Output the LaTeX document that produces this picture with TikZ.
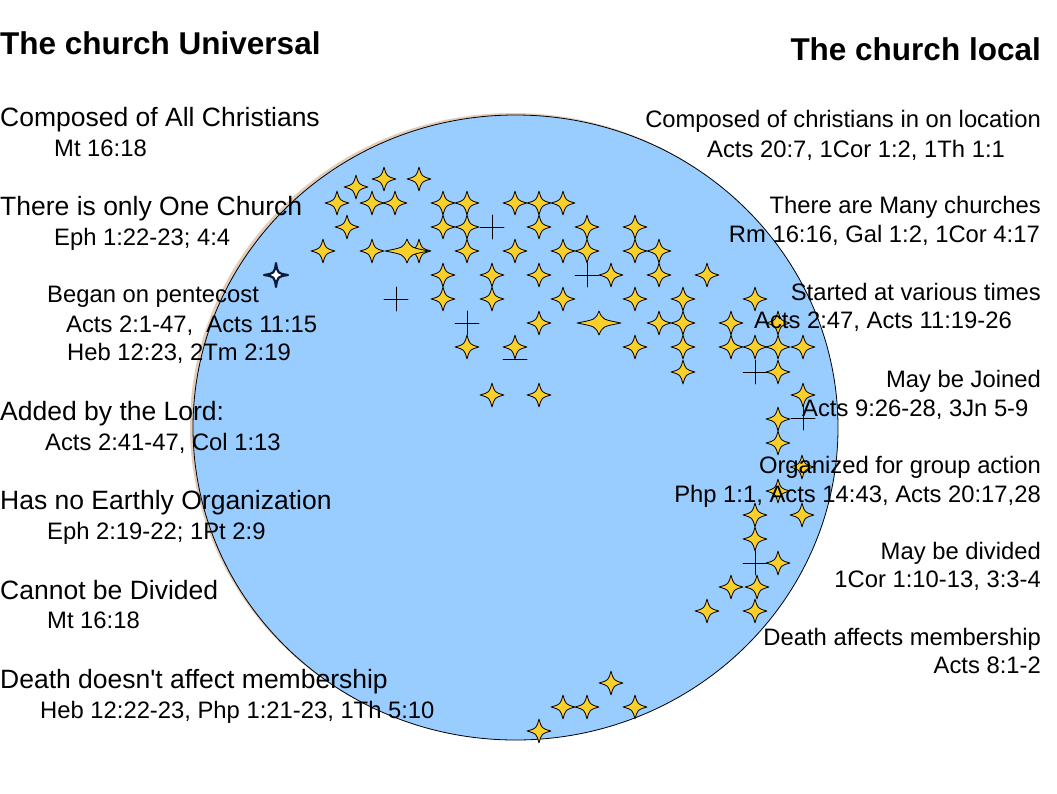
\documentclass[tikz,border=0pt]{standalone}
\usepackage{fontspec}
\setmainfont{Liberation Sans}[Ligatures=TeXOff]
\usetikzlibrary{calc}

\definecolor{skyfill}{RGB}{153,204,255}
\definecolor{stargold}{RGB}{250,208,40}
\definecolor{rimtan}{RGB}{226,204,186}
\definecolor{navystar}{RGB}{12,26,60}

\newcommand{\headfnt}{\fontsize{31.5}{36}\selectfont\bfseries}
\newcommand{\pointfnt}{\fontsize{26.5}{30}\selectfont}
\newcommand{\versefnt}{\fontsize{23.8}{28}\selectfont}

\tikzset{
	sparkle/.pic={
		\filldraw[fill=stargold, draw=black, line width=0.8pt] (0,-12) .. controls (2.6,-2.6) .. (12,0) .. controls (2.6,2.6) .. (0,12) .. controls (-2.6,2.6) .. (-12,0) .. controls (-2.6,-2.6) .. (0,-12) -- cycle;
	},
	bigsparkle/.pic={
		\filldraw[fill=stargold, draw=black, line width=0.8pt] (0,-12) .. controls (3.5,-3.5) .. (22,0) .. controls (3.5,3.5) .. (0,12) .. controls (-3.5,3.5) .. (-22,0) .. controls (-3.5,-3.5) .. (0,-12) -- cycle;
	},
	darksparkle/.pic={
		\filldraw[fill=white, draw=navystar, line width=2.2pt] (0,-12) .. controls (1.6,-1.6) .. (12,0) .. controls (1.6,1.6) .. (0,12) .. controls (-1.6,1.6) .. (-12,0) .. controls (-1.6,-1.6) .. (0,-12) -- cycle;
	},
	crossmark/.pic={
		\draw[black, line width=0.7pt] (-12,0) -- (12,0) (0,-12) -- (0,12);
	}
}

\begin{document}
\begin{tikzpicture}[x=1pt, y=-1pt, line join=round, line cap=round,
	head/.style={inner sep=0pt, font=\headfnt},
	point/.style={inner sep=0pt, font=\pointfnt},
	verse/.style={inner sep=0pt, font=\versefnt}]
	\useasboundingbox (0,0) rectangle (1057,793);

	% the globe
	\fill[rimtan] (513,426) ellipse (323pt and 313pt);
	\filldraw[fill=skyfill, draw=black, line width=0.8pt] (515.5,427.5) ellipse (322.5pt and 312.5pt);

	% crosses
	\foreach \px/\py in {492/227, 587/275, 396/299, 467/323, 755/372, 803/418, 755/563}
		\pic at (\px,\py) {crossmark};
	\coordinate (barL) at (503,359);
	\coordinate (barR) at (527,359);
	\draw[black, line width=0.7pt] (barL) -- (barR);

	% stars
	\foreach \px/\py in {
		384/179, 419/179, 356/187,
		337/203, 372/203, 395/203, 443/203, 467/203, 515/203, 539/203, 563/203,
		347/227, 443/227, 467/227, 539/227, 587/227, 635/227,
		323/251, 372/251, 419/251, 467/251, 515/251, 563/251, 587/251, 635/251, 659/251,
		443/275, 492/275, 539/275, 611/275, 659/275, 707/275,
		443/299, 492/299, 563/299, 635/299, 683/299, 755/299,
		539/323, 659/323, 683/323, 731/323, 778/323,
		467/347, 515/347, 635/347, 683/347, 731/347, 755/347, 778/347, 803/347,
		683/372, 778/372,
		492/395, 539/395, 803/395,
		778/419, 778/443, 802/467, 778/491,
		755/515, 802/515, 755/539, 778/563,
		731/587, 757/587, 707/611, 755/611,
		611/683, 563/707, 587/707, 635/707, 539/731}
		\pic at (\px,\py) {sparkle};
	\pic at (407,251) {bigsparkle};
	\pic at (599,323) {bigsparkle};
	\pic at (276,275) {darksparkle};

	% universal
	\node[head, anchor=base west] (uniHead) at (0,54) {The church Universal};
	\node[point, anchor=base west] (uniA) at (0,126) {Composed of All Christians};
	\node[verse, anchor=base west] (uniAv) at (54,156) {Mt 16:18};
	\node[point, anchor=base west] (uniB) at (0,215) {There is only One Church};
	\node[verse, anchor=base west] (uniBv) at (54,245) {Eph 1:22-23; 4:4};
	\node[verse, anchor=base west] (uniC) at (47,302) {Began on pentecost};
	\node[verse, anchor=base west] (uniCv) at (66,332) {Acts 2:1-47,~ Acts 11:15};
	\node[verse, anchor=base west] (uniCw) at (67,360) {Heb 12:23, 2Tm 2:19};
	\node[point, anchor=base west] (uniD) at (0,420) {Added by the Lord:};
	\node[verse, anchor=base west] (uniDv) at (45,450) {Acts 2:41-47, Col 1:13};
	\node[point, anchor=base west] (uniE) at (0,509) {Has no Earthly Organization};
	\node[verse, anchor=base west] (uniEv) at (47,539) {Eph 2:19-22; 1Pt 2:9};
	\node[point, anchor=base west] (uniF) at (0,599) {Cannot be Divided};
	\node[verse, anchor=base west] (uniFv) at (47,628) {Mt 16:18};
	\node[point, anchor=base west] (uniG) at (0,688) {Death doesn't affect membership};
	\node[verse, anchor=base west] (uniGv) at (40,718) {Heb 12:22-23, Php 1:21-23, 1Th 5:10};

	% local
	\node[head, anchor=base east] (locHead) at (1041,60) {The church local};
	\node[verse, anchor=base east] (locA) at (1041,127) {Composed of christians in on location};
	\node[verse, anchor=base west] (locAv) at (707,157) {Acts 20:7, 1Cor 1:2, 1Th 1:1};
	\node[verse, anchor=base east] (locB) at (1041,213) {There are Many churches};
	\node[verse, anchor=base east] (locBv) at (1040,242) {Rm 16:16, Gal 1:2, 1Cor 4:17};
	\node[verse, anchor=base east] (locC) at (1041,300) {Started at various times};
	\node[verse, anchor=base west] (locCv) at (754,328) {Acts 2:47, Acts 11:19-26};
	\node[verse, anchor=base east] (locD) at (1041,387) {May be Joined};
	\node[verse, anchor=base west] (locDv) at (802,416) {Acts 9:26-28, 3Jn 5-9};
	\node[verse, anchor=base east] (locE) at (1041,473) {Organized for group action};
	\node[verse, anchor=base east] (locEv) at (1041,502) {Php 1:1, Acts 14:43, Acts 20:17,28};
	\node[verse, anchor=base east] (locF) at (1041,559) {May be divided};
	\node[verse, anchor=base east] (locFv) at (1041,587) {1Cor 1:10-13, 3:3-4};
	\node[verse, anchor=base east] (locG) at (1041,645) {Death affects membership};
	\node[verse, anchor=base east] (locGv) at (1041,673) {Acts 8:1-2};
\end{tikzpicture}
\end{document}
